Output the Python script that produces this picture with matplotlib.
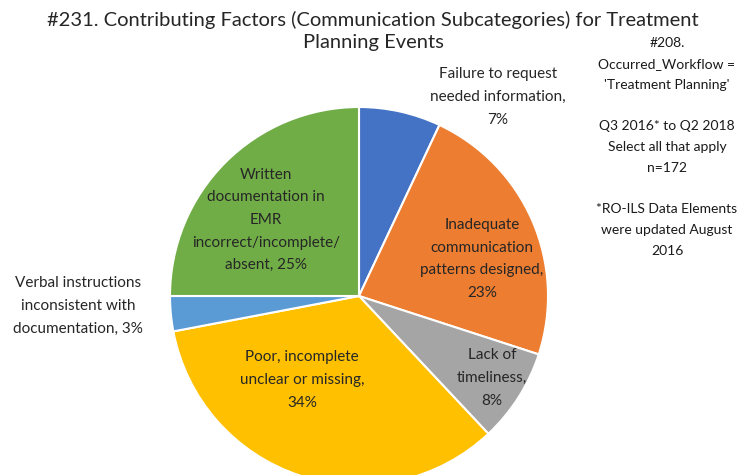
import matplotlib.pyplot as plt
import numpy as np

plt.rcParams['font.family'] = ['Lato', 'DejaVu Sans']

labels = [
    "Failure to request\nneeded information,\n7%",
    "Inadequate\ncommunication\npatterns designed,\n23%",
    "Lack of\ntimeliness,\n8%",
    "Poor, incomplete\nunclear or missing,\n34%",
    "Verbal instructions\ninconsistent with\ndocumentation, 3%",
    "Written\ndocumentation in\nEMR\nincorrect/incomplete/\nabsent, 25%",
]
shares = [7, 23, 8, 34, 3, 25]
colors = ["#4472C4", "#ED7D31", "#A5A5A5", "#FFC000", "#5B9BD5", "#70AD47"]

# label centres in pixels (outside labels sit beside the pie)
label_pos = [(498, 97), (482, 259), (492, 378), (302, 380), (78, 306), (266, 220)]

title = "#231. Contributing Factors (Communication Subcategories) for Treatment\nPlanning Events"
note = ("#208.\nOccurred_Workflow =\n'Treatment Planning'\n\nQ3 2016* to Q2 2018\n"
        "Select all that apply\nn=172\n\n*RO-ILS Data Elements\nwere updated August\n2016")

W, H = 746, 475
fig = plt.figure(figsize=(W / 100, H / 100), dpi=100)
ax = fig.add_axes([0, 0, 1, 1])

cx, cy, r = 359, 296, 189
# y axis inverted -> counterclock=True draws clockwise on screen
ax.pie(shares, colors=colors, startangle=-90, counterclock=True,
       center=(cx, cy), radius=r, frame=True,
       wedgeprops=dict(edgecolor='white', linewidth=1.5))
ax.set_xlim(0, W)
ax.set_ylim(H, 0)
ax.set_aspect('equal')
ax.axis('off')

for txt, (x, y) in zip(labels, label_pos):
    ax.text(x, y, txt, ha='center', va='center', fontsize=11,
            color='#262626', linespacing=1.78)

ax.text(373, 31, title, ha='center', va='center', fontsize=14.5,
        color='#262626', linespacing=1.4)
ax.text(667, 147, note, ha='center', va='center', fontsize=10,
        color='#1a1a1a', linespacing=1.88)

fig.savefig("out.png", dpi=100)
